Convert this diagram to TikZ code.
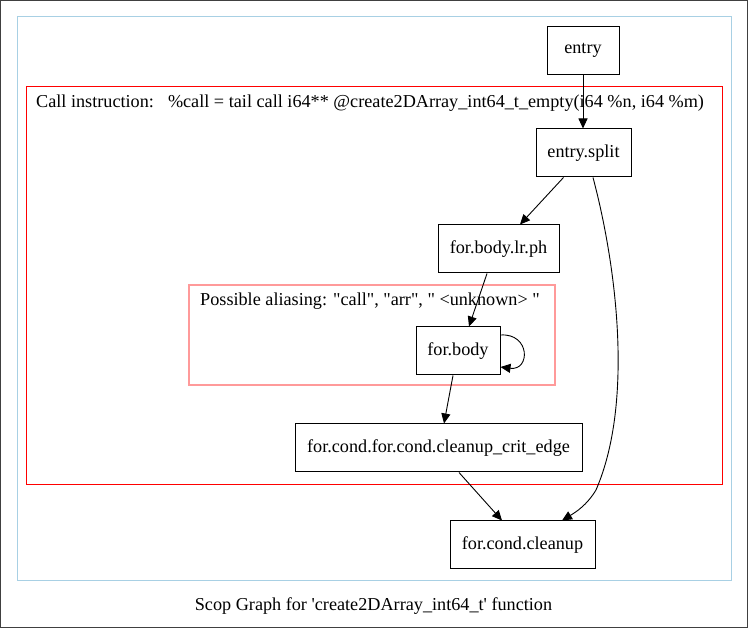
\documentclass[tikz,border=0pt]{standalone}
\usepackage{fontspec}
\newfontfamily\gvfont{Liberation Serif}
\usetikzlibrary{arrows.meta}
\definecolor{clblue}{HTML}{A8D0E4}
\definecolor{clred}{HTML}{FF0000}
\definecolor{clpink}{HTML}{FF9A9A}
\definecolor{bordergray}{HTML}{404040}
\tikzset{
  gvtext/.style={font=\gvfont\fontsize{18.2}{20}\selectfont},
  bb/.style={draw=black, line width=1pt, inner sep=0pt, gvtext, minimum height=48pt},
  lbl/.style={inner sep=0pt, anchor=west, gvtext},
  edge/.style={-{Triangle[length=10pt,width=9pt]}, line width=0.9pt, black},
}
\begin{document}
\begin{tikzpicture}[x=1pt,y=-1pt]
\useasboundingbox (0,0) rectangle (748,628);
\draw[bordergray, line width=1pt] (0.5,0.5) rectangle (747.5,627.5);
\draw[clblue, line width=1pt] (17.5,16.5) rectangle (731.5,580.5);
\draw[clred, line width=1pt] (26.5,86.5) rectangle (722.5,484.5);
\draw[clpink, line width=1.2pt] (189,285) rectangle (555,385);
\node[lbl] (calllbl) at (36,103) {Call instruction:\hspace*{14pt}\%call = tail call i64** @create2DArray\_int64\_t\_empty(i64 \%n, i64 \%m)};
\node[lbl] (aliaslbl) at (200,301) {Possible aliasing: "call", "arr", " <unknown> "};
\node[bb, minimum width=72pt] (entry) at (583,50.5) {entry};
\node[bb, minimum width=95pt] (es) at (583.5,153) {entry.split};
\node[bb, minimum width=121pt] (lrph) at (498.5,249) {for.body.lr.ph};
\node[bb, minimum width=84pt] (fb) at (458,351) {for.body};
\node[bb, minimum width=287pt] (crit) at (438.5,448) {for.cond.for.cond.cleanup\_crit\_edge};
\node[bb, minimum width=145pt] (cl) at (522.5,545) {for.cond.cleanup};
\node[inner sep=0pt, gvtext] (cap) at (373.5,606) {Scop Graph for 'create2DArray\_int64\_t' function};
\draw[edge] (entry.south) -- (entry.south |- es.north);
\draw[edge] ([xshift=-20pt]es.south) -- ([xshift=21.5pt]lrph.north);
\draw[edge] ([xshift=-11.5pt]lrph.south) -- ([xshift=11pt]fb.north);
\draw[edge] ([yshift=16pt]fb.east) .. controls +(30,-2) and +(30,4) .. ([yshift=-16pt]fb.east);
\draw[edge] ([xshift=-5pt]fb.south) -- ([xshift=5.5pt]crit.north);
\draw[edge] ([xshift=20.5pt]crit.south) -- ([xshift=-20.5pt]cl.north);
\draw[edge] ([xshift=9.5pt]es.south) .. controls (615,260) and (635,400) .. (596,490) .. controls (587,505) and (576,512) .. ([xshift=39.5pt]cl.north);
\end{tikzpicture}
\end{document}
